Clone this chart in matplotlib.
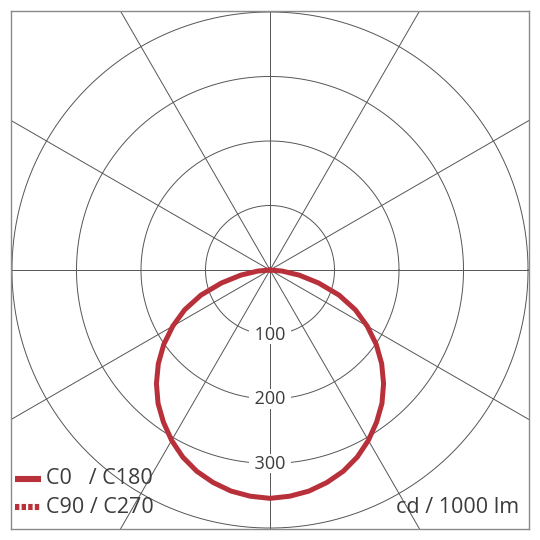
import numpy as np
import matplotlib
matplotlib.use('Agg')
import matplotlib.pyplot as plt

# luminous intensity, cd / 1000 lm, angle from nadir (degrees)
angles = [0, 5, 10, 15, 20, 25, 30, 35, 40, 45, 50, 55, 60, 65, 70, 75, 80, 85, 90]
c0_c180 = [354, 352, 348, 341, 332, 320, 305, 288, 270, 249, 226, 201, 174, 146, 114, 78, 46, 19, 0]
c90_c270 = [354, 352, 348, 341, 332, 320, 305, 288, 270, 249, 226, 201, 174, 146, 114, 78, 46, 19, 0]

rings = [100, 200, 300, 400]
ring_labels = ['100', '200', '300']
spokes = np.arange(0, 180, 30)

red = '#b8313a'
grid = '#555555'
txt = '#3c3c3c'

plt.rcParams['font.family'] = ['Open Sans', 'DejaVu Sans']

fig = plt.figure(figsize=(5.4, 5.4), dpi=100)
ax = fig.add_axes([11 / 540, 11 / 540, 518 / 540, 518 / 540])
lim = 401.5
ax.set_xlim(-lim, lim)
ax.set_ylim(-lim, lim)
ax.set_aspect('equal')
ax.set_xticks([])
ax.set_yticks([])
for s in ax.spines.values():
    s.set_color('#8a8a8a')
    s.set_linewidth(1.0)

# rings
t = np.linspace(0, 2 * np.pi, 400)
for r in rings:
    ax.plot(r * np.cos(t), r * np.sin(t), color=grid, lw=0.7, zorder=1)

# spokes
for a in spokes:
    rad = np.deg2rad(a)
    L = 800
    ax.plot([-L * np.cos(rad), L * np.cos(rad)], [-L * np.sin(rad), L * np.sin(rad)],
            color=grid, lw=0.7, zorder=1)

# ring labels at nadir
for r, lab in zip(rings, ring_labels):
    ax.text(0, -r, ' ' + lab + ' ', ha='center', va='center', fontsize=13, color=txt,
            bbox=dict(boxstyle='square,pad=0.05', fc='white', ec='none'), zorder=3)


def curve(vals):
    th = np.deg2rad(np.array(angles))
    v = np.array(vals, dtype=float)
    th_full = np.concatenate([-th[::-1], th[1:]])
    v_full = np.concatenate([v[::-1], v[1:]])
    return v_full * np.sin(th_full), -v_full * np.cos(th_full)


# C90/C270 coincides with C0/C180 and sits hidden beneath it
x90, y90 = curve(c90_c270)
ax.plot(x90, y90, color=red, lw=2.2, ls=(0, (1.0, 0.6)), dash_capstyle='butt', zorder=4)
x0, y0 = curve(c0_c180)
ax.plot(x0, y0, color=red, lw=3.6, solid_capstyle='round', solid_joinstyle='round', zorder=5)

# legend
ax.plot([-395, -355], [-323.6, -323.6], color=red, lw=4.4, solid_capstyle='butt', zorder=6)
ax.plot([-395, -355], [-367.4, -367.4], color=red, lw=4.4, ls=(0, (0.72, 0.36)),
        dash_capstyle='butt', zorder=6)
ax.text(-347, -323.6, 'C0   / C180', ha='left', va='center', fontsize=15.5, color=txt, zorder=6)
ax.text(-347, -367.4, 'C90 / C270', ha='left', va='center', fontsize=15.5, color=txt, zorder=6)
ax.text(386, -367.4, 'cd / 1000 lm', ha='right', va='center', fontsize=15.5, color=txt, zorder=6)

fig.savefig('out.png', dpi=100, facecolor='white')
